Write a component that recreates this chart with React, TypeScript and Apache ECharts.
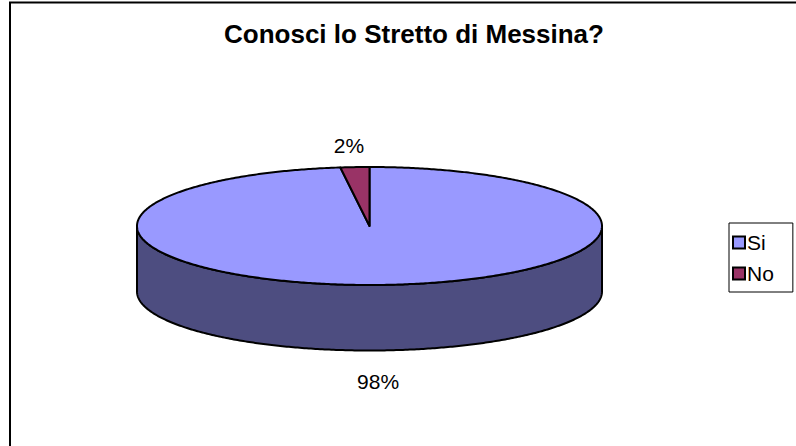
import React, { useEffect, useRef } from "react";
import * as echarts from "echarts";

const categories = ["Si", "No"];
const values = [98, 2];
const topColors = ["#9999FF", "#993366"];
const sideColors = ["#4D4D80", "#4D1A33"];
const titleText = "Conosci lo Stretto di Messina?";

const FONT = "'Liberation Sans', Arial, sans-serif";

export default function App() {
  const ref = useRef<HTMLDivElement>(null);

  useEffect(() => {
    document.body.style.margin = "0";
    if (!ref.current) return;
    const chart = echarts.init(ref.current, undefined, { renderer: "svg" });

    const total = values.reduce((a, b) => a + b, 0);
    const cum: number[] = [];
    let acc = 0;
    values.forEach((v) => {
      cum.push(acc);
      acc += v;
    });

    const cx = 369.5;
    const cy = 226;
    const rx = 232.5;
    const ry = 59;
    const depth = 65.5;

    const pt = (t: number, dy = 0) => [cx + rx * Math.sin(t), cy - ry * Math.cos(t) + dy];
    const arc = (a: number, b: number, dy = 0) => {
      const pts: number[][] = [];
      const n = Math.max(2, Math.ceil(Math.abs(b - a) / 0.01));
      for (let k = 0; k <= n; k++) pts.push(pt(a + ((b - a) * k) / n, dy));
      return pts;
    };

    const renderItem = (params: any, api: any) => {
      const i = params.seriesIndex;
      const v = api.value(0);
      const a0 = (cum[i] / total) * Math.PI * 2;
      const a1 = a0 + (v / total) * Math.PI * 2;
      const children: any[] = [];
      const s = Math.max(a0, Math.PI / 2);
      const e = Math.min(a1, (Math.PI * 3) / 2);
      if (e > s) {
        const top = arc(s, e);
        const bot = arc(e, s, depth);
        children.push({
          type: "polygon",
          shape: { points: top.concat(bot) },
          style: { fill: sideColors[i], stroke: "#000", lineWidth: 2, lineJoin: "round" },
        });
      }
      children.push({
        type: "polygon",
        shape: { points: [[cx, cy]].concat(arc(a0, a1)) },
        style: { fill: topColors[i], stroke: "#000", lineWidth: 2, lineJoin: "round" },
      });
      const m = (a0 + a1) / 2;
      const front = Math.cos(m) < 0;
      const p = pt(m, front ? depth : 0);
      children.push({
        type: "text",
        x: p[0] - 6,
        y: p[1] + (front ? 31 : -22),
        style: {
          text: Math.round((v / total) * 100) + "%",
          fill: "#000",
          font: `21px ${FONT}`,
          align: "center",
          verticalAlign: "middle",
        },
      });
      return { type: "group", children };
    };

    chart.setOption({
      animation: false,
      title: {
        text: titleText,
        left: 409,
        top: 16,
        textAlign: "center",
        textStyle: { fontFamily: FONT, fontSize: 26, fontWeight: "bold", color: "#000" },
      },
      legend: {
        orient: "vertical",
        left: 729,
        top: 223,
        data: categories,
        icon: "rect",
        itemWidth: 12,
        itemHeight: 12,
        itemGap: 10,
        padding: [9, 19, 8, 3],
        borderColor: "#000",
        borderWidth: 1,
        selectedMode: false,
        itemStyle: { borderColor: "#000", borderWidth: 2 },
        textStyle: { fontFamily: FONT, fontSize: 21, color: "#000", padding: [0, 0, 0, -3] },
      },
      graphic: [
        {
          type: "rect",
          shape: { x: 10, y: 2.5, width: 900, height: 600 },
          style: { fill: "none", stroke: "#000", lineWidth: 2 },
          silent: true,
          z: -10,
        },
      ],
      series: categories.map((name, i) => ({
        type: "custom",
        name,
        coordinateSystem: "none",
        silent: true,
        itemStyle: { color: topColors[i] },
        data: [[values[i]]],
        renderItem,
      })),
    });

    return () => chart.dispose();
  }, []);

  return <div ref={ref} style={{ width: 796, height: 446 }} />;
}
